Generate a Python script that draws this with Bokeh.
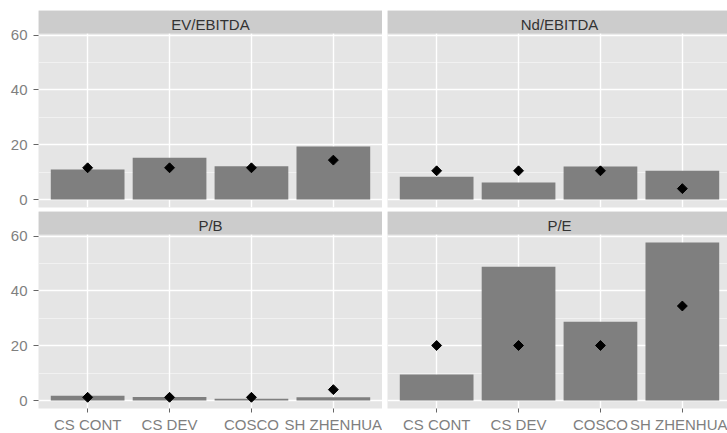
from bokeh.plotting import figure
from bokeh.models import Range1d, LinearAxis, Grid, FixedTicker, BoxAnnotation, Label
from bokeh.layouts import column, row
from bokeh.core.properties import value
from bokeh.embed import file_html
from bokeh.resources import INLINE
import numpy as np

# ---------------- data ----------------
companies = ["CS CONT", "CS DEV", "COSCO", "SH ZHENHUA"]
metrics = ["EV/EBITDA", "Nd/EBITDA", "P/B", "P/E"]

ev_ebitda = [11.0, 15.3, 12.2, 19.4]
ev_ebitda_avg = [11.6, 11.6, 11.6, 14.4]
nd_ebitda = [8.3, 6.2, 12.1, 10.5]
nd_ebitda_avg = [10.5, 10.5, 10.5, 4.0]
p_b = [1.8, 1.3, 0.7, 1.2]
p_b_avg = [1.2, 1.2, 1.2, 4.0]
p_e = [9.5, 48.8, 28.8, 57.7]
p_e_avg = [20.1, 20.1, 20.1, 34.5]

y_ticks = [0, 20, 40, 60]
y_minor_ticks = [10, 30, 50]

values = {
    "EV/EBITDA": (ev_ebitda, ev_ebitda_avg),
    "Nd/EBITDA": (nd_ebitda, nd_ebitda_avg),
    "P/B": (p_b, p_b_avg),
    "P/E": (p_e, p_e_avg),
}

# ---------------- style ----------------
FONT = "Liberation Sans"
PANEL_BG = "#E5E5E5"
STRIP_BG = "#CCCCCC"
BAR = "#7F7F7F"
TXT = "#7F7F7F"
FRAME_W = 344
RIGHT_FRAME_W = 340          # right column is cropped by the window edge
DATA_H = 174                 # height of the data part of a panel
STRIP_H = 23                 # height of the facet strip
LEFT_BORDER = 38
GAP = 5

n = len(companies)
xpos = [i + 1 for i in range(n)]
ymax = max(max(v) for pair in values.values() for v in pair)
y_lo, y_hi = -0.05 * ymax, 1.05 * ymax
y_top = y_hi + STRIP_H * (y_hi - y_lo) / DATA_H

x_full = (0.4, n + 0.6)
x_right_end = x_full[0] + (x_full[1] - x_full[0]) * RIGHT_FRAME_W / FRAME_W


def make_panel(metric, left_col, bottom_row):
    bars, avg = values[metric]
    xr = Range1d(*x_full) if left_col else Range1d(x_full[0], x_right_end)
    p = figure(
        frame_width=FRAME_W if left_col else RIGHT_FRAME_W,
        frame_height=DATA_H + STRIP_H,
        x_range=xr, y_range=Range1d(y_lo, y_top),
        x_axis_type=None, y_axis_type=None,
        toolbar_location=None, output_backend="svg",
        background_fill_color=PANEL_BG, border_fill_color="white",
        outline_line_color=None,
        min_border_left=LEFT_BORDER if left_col else GAP,
        min_border_right=0,
        min_border_top=0 if bottom_row else 10,
        min_border_bottom=0 if bottom_row else 4,
    )
    xt = FixedTicker(ticks=xpos)
    yt = FixedTicker(ticks=y_ticks, minor_ticks=y_minor_ticks)
    p.add_layout(Grid(dimension=1, ticker=yt, grid_line_color="white",
                      grid_line_width=1.4,
                      minor_grid_line_color="#F2F2F2",
                      minor_grid_line_width=0.9))
    p.add_layout(Grid(dimension=0, ticker=xt, grid_line_color="white",
                      grid_line_width=1.4))
    if left_col:
        ya = LinearAxis(ticker=yt)
        ya.axis_line_color = None
        ya.major_tick_line_color = "#666666"
        ya.major_tick_in = 0
        ya.major_tick_out = 5
        ya.minor_tick_line_color = None
        ya.major_label_standoff = 6
        ya.major_label_text_font = FONT
        ya.major_label_text_font_size = "15px"
        ya.major_label_text_color = TXT
        p.add_layout(ya, "left")
    if bottom_row:
        xa = LinearAxis(ticker=xt,
                        major_label_overrides={x: c for x, c in zip(xpos, companies)})
        xa.axis_line_color = None
        xa.major_tick_line_color = "#666666"
        xa.major_tick_in = 0
        xa.major_tick_out = 4
        xa.minor_tick_line_color = None
        xa.major_label_standoff = 3
        xa.major_label_text_font = FONT
        xa.major_label_text_font_size = "15px"
        xa.major_label_text_color = TXT
        p.add_layout(xa, "below")

    p.vbar(x=xpos, top=bars, bottom=0, width=0.9, fill_color=BAR, line_color=None)
    p.scatter(x=xpos, y=avg, marker="square", size=7, angle=np.pi / 4,
              fill_color="black", line_color="black")

    # facet strip on top of the panel
    p.add_layout(BoxAnnotation(bottom=y_hi, fill_color=STRIP_BG, fill_alpha=1.0,
                               line_color=None, level="annotation"))
    p.add_layout(Label(x=(n + 1) / 2, y=y_hi + 0.38 * (y_top - y_hi), text=metric,
                       text_font=FONT, text_font_size="15px", text_color="#333333",
                       text_align="center", text_baseline="middle"))
    return p


p1 = make_panel(metrics[0], True, False)
p2 = make_panel(metrics[1], False, False)
p3 = make_panel(metrics[2], True, True)
p4 = make_panel(metrics[3], False, True)

layout = column(row(p1, p2), row(p3, p4))

open("out.html", "w").write(file_html(layout, INLINE))
